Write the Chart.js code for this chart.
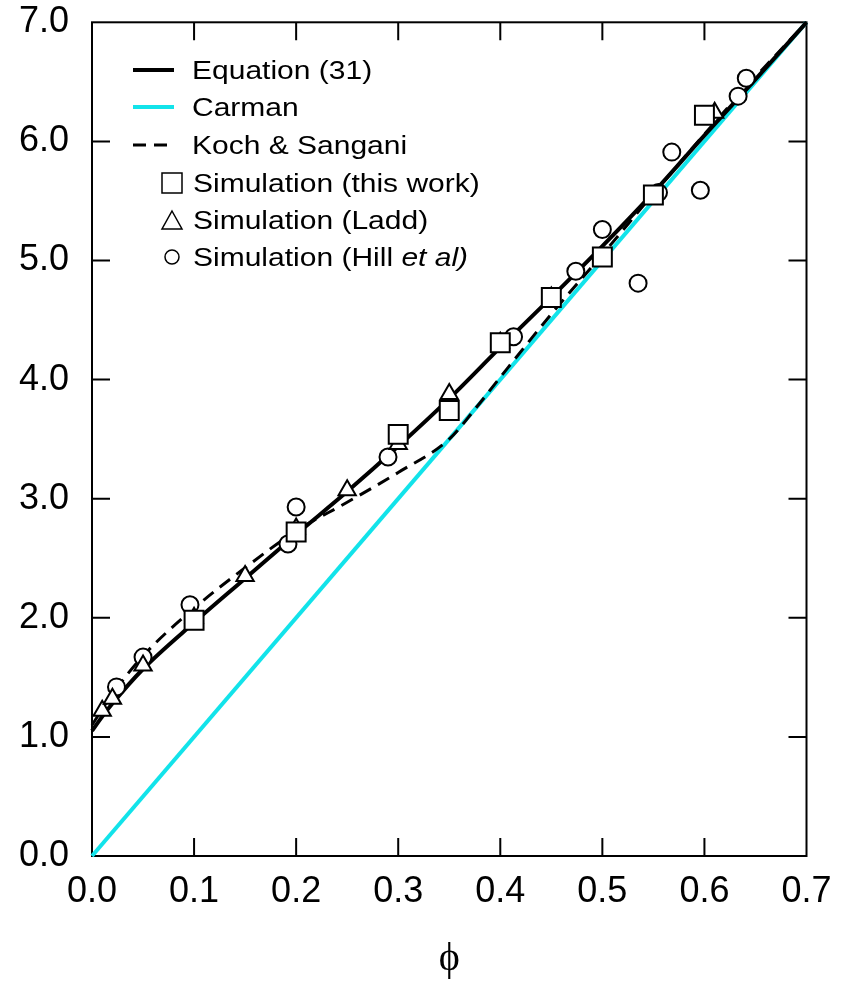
<!DOCTYPE html>
<html>
<head>
<meta charset="utf-8">
<script src="https://cdn.jsdelivr.net/npm/chart.js@4.4.1/dist/chart.umd.min.js"></script>
<style>
  html, body { margin: 0; padding: 0; background: #fff; }
  canvas { display: block; }
</style>
</head>
<body>
<canvas id="dragChart" width="842" height="983"></canvas>
<script>
// solid volume fraction on x, normalised drag on y
const phiEquation = [0, 0.01, 0.02, 0.05, 0.1, 0.15, 0.2, 0.25, 0.3, 0.35, 0.4, 0.45, 0.5, 0.55, 0.6, 0.65, 0.7];
const equationValues = [1.05, 1.17, 1.28, 1.57, 1.96, 2.33, 2.70, 3.06, 3.44, 3.84, 4.27, 4.69, 5.12, 5.57, 6.05, 6.52, 7.0];

const phiCarman = [0, 0.7];
const carmanValues = [0, 7.0];

const phiKoch = [0, 0.02, 0.05, 0.1, 0.15, 0.2, 0.25, 0.3, 0.35, 0.375, 0.4, 0.45, 0.5, 0.55, 0.6, 0.65, 0.7];
const kochValues = [1.1, 1.36, 1.68, 2.08, 2.42, 2.73, 2.97, 3.22, 3.50, 3.75, 4.02, 4.55, 5.05, 5.56, 6.06, 6.54, 7.0];

const phiThisWork = [0.1, 0.2, 0.3, 0.35, 0.4, 0.45, 0.5, 0.55, 0.6];
const thisWorkValues = [1.98, 2.72, 3.54, 3.74, 4.31, 4.69, 5.03, 5.55, 6.22];

const phiLadd = [0.01, 0.02, 0.05, 0.1, 0.15, 0.2, 0.25, 0.3, 0.35, 0.4, 0.45, 0.61];
const laddValues = [1.22, 1.32, 1.60, 2.0, 2.35, 2.75, 3.07, 3.46, 3.88, 4.31, 4.69, 6.24];

const phiHill = [0.024, 0.05, 0.096, 0.192, 0.2, 0.29, 0.413, 0.474, 0.5, 0.535, 0.555, 0.568, 0.596, 0.633, 0.641];
const hillValues = [1.42, 1.67, 2.11, 2.62, 2.93, 3.35, 4.36, 4.91, 5.26, 4.81, 5.57, 5.91, 5.59, 6.38, 6.53];

const xTicks = [0.1, 0.2, 0.3, 0.4, 0.5, 0.6];
const yTicks = [1, 2, 3, 4, 5, 6];

const CYAN = '#12e3ea';

const pts = (xs, ys) => xs.map((x, i) => ({ x: x, y: ys[i] }));

const lineSet = (label, xs, ys, color, width, dash, order) => ({
  label: label,
  data: pts(xs, ys),
  showLine: true,
  borderColor: color,
  borderWidth: width,
  borderDash: dash,
  pointRadius: 0,
  cubicInterpolationMode: 'monotone',
  clip: false,
  order: order
});

const markerSet = (label, xs, ys, style, radius) => ({
  label: label,
  data: pts(xs, ys),
  showLine: false,
  pointStyle: style,
  pointRadius: radius,
  pointBorderWidth: 2,
  pointBorderColor: '#000',
  pointBackgroundColor: '#fff',
  clip: false,
  order: 0
});

// frame with inward ticks on all four sides
const framePlugin = {
  id: 'frame',
  beforeDatasetsDraw(chart) {
    const { ctx, chartArea: a, scales: { x, y } } = chart;
    const len = 18;
    ctx.save();
    ctx.strokeStyle = '#000';
    ctx.lineWidth = 2;
    ctx.strokeRect(a.left, a.top, a.right - a.left, a.bottom - a.top);
    ctx.beginPath();
    xTicks.forEach(v => {
      const px = x.getPixelForValue(v);
      ctx.moveTo(px, a.bottom); ctx.lineTo(px, a.bottom - len);
      ctx.moveTo(px, a.top); ctx.lineTo(px, a.top + len);
    });
    yTicks.forEach(v => {
      const py = y.getPixelForValue(v);
      ctx.moveTo(a.left, py); ctx.lineTo(a.left + len, py);
      ctx.moveTo(a.right, py); ctx.lineTo(a.right - len, py);
    });
    ctx.stroke();
    ctx.restore();
  }
};

// legend drawn inside the plot, top left
const legendPlugin = {
  id: 'insideLegend',
  afterDatasetsDraw(chart) {
    const ctx = chart.ctx;
    const rows = [70, 107, 145, 183, 220, 257];
    const ds = chart.data.datasets;
    const stretch = 1.2;
    ctx.save();
    ds.forEach((d, i) => {
      const yy = rows[i];
      let textX = 192;
      if (d.showLine) {
        ctx.save();
        ctx.strokeStyle = d.borderColor;
        ctx.lineWidth = d.borderWidth;
        ctx.setLineDash(d.borderDash || []);
        ctx.beginPath();
        ctx.moveTo(133, yy);
        ctx.lineTo(174, yy);
        ctx.stroke();
        ctx.restore();
      } else {
        textX = 193;
        ctx.fillStyle = '#fff';
        ctx.strokeStyle = '#000';
        ctx.lineWidth = 1.5;
        ctx.beginPath();
        if (d.pointStyle === 'circle') {
          ctx.arc(172, yy, 7, 0, Math.PI * 2);
        } else if (d.pointStyle === 'triangle') {
          ctx.moveTo(172, yy - 9); ctx.lineTo(182, yy + 9); ctx.lineTo(162, yy + 9); ctx.closePath();
        } else {
          ctx.rect(162, yy - 10, 20, 20);
        }
        ctx.fill();
        ctx.stroke();
      }
      ctx.save();
      ctx.translate(textX, yy + 9);
      ctx.scale(stretch, 1);
      ctx.fillStyle = '#000';
      ctx.textBaseline = 'alphabetic';
      ctx.textAlign = 'left';
      ctx.font = '25px "Liberation Sans", Arial, sans-serif';
      if (d.label.indexOf('Hill') >= 0) {
        const head = 'Simulation (Hill ';
        ctx.fillText(head, 0, 0);
        const w = ctx.measureText(head).width;
        ctx.font = 'italic 25px "Liberation Sans", Arial, sans-serif';
        ctx.fillText('et al)', w, 0);
      } else {
        ctx.fillText(d.label, 0, 0);
      }
      ctx.restore();
    });
    ctx.restore();
  }
};

const ctx = document.getElementById('dragChart').getContext('2d');
const chart = new Chart(ctx, {
  type: 'scatter',
  data: {
    datasets: [
      lineSet('Equation (31)', phiEquation, equationValues, '#000', 4, [], 1),
      lineSet('Carman', phiCarman, carmanValues, CYAN, 4, [], 3),
      lineSet('Koch & Sangani', phiKoch, kochValues, '#000', 3, [13, 8], 2),
      markerSet('Simulation (this work)', phiThisWork, thisWorkValues, 'rect', 13.4),
      markerSet('Simulation (Ladd)', phiLadd, laddValues, 'triangle', 10),
      markerSet('Simulation (Hill et al)', phiHill, hillValues, 'circle', 8.5)
    ]
  },
  options: {
    responsive: false,
    animation: false,
    layout: { padding: { top: 0, right: 0, left: 0, bottom: 0 } },
    plugins: {
      legend: { display: false },
      tooltip: { enabled: false },
      title: { display: false }
    },
    scales: {
      x: {
        type: 'linear',
        min: 0,
        max: 0.7,
        afterFit: s => { s.height = 127; s.paddingRight = 35.5; s.paddingLeft = 0; },
        grid: { display: false, drawTicks: false },
        border: { display: false },
        ticks: {
          stepSize: 0.1,
          padding: 14,
          color: '#000',
          font: { family: '"Liberation Sans", Arial, sans-serif', size: 36 },
          callback: v => Number(v).toFixed(1)
        },
        title: {
          display: true,
          text: 'ϕ',
          color: '#000',
          padding: { top: 0, bottom: 0 },
          font: { family: '"Liberation Serif", "DejaVu Serif", serif', size: 40 }
        }
      },
      y: {
        type: 'linear',
        min: 0,
        max: 7,
        afterFit: s => { s.width = 92; s.paddingTop = 22.3; s.paddingBottom = 0; },
        grid: { display: false, drawTicks: false },
        border: { display: false },
        ticks: {
          stepSize: 1,
          padding: 23,
          color: '#000',
          font: { family: '"Liberation Sans", Arial, sans-serif', size: 36 },
          callback: v => Number(v).toFixed(1)
        }
      }
    }
  },
  plugins: [framePlugin, legendPlugin]
});
</script>
</body>
</html>
